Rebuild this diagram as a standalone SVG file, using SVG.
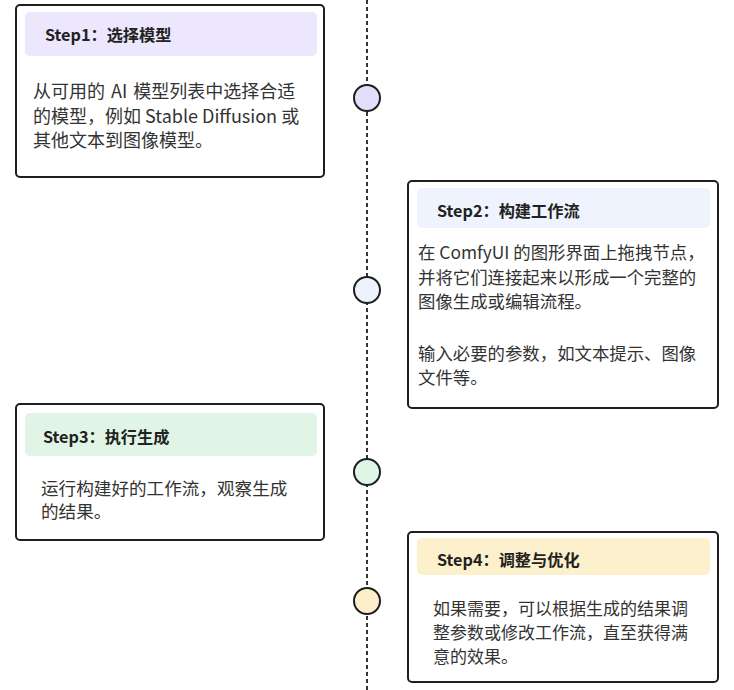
<svg xmlns="http://www.w3.org/2000/svg" width="734" height="690" viewBox="0 0 734 690">
<style>
.card{fill:#ffffff;stroke:#1e1e1e;stroke-width:2}
.hd{font-family:"Noto Sans CJK SC","Noto Sans",sans-serif;font-size:16.2px;font-weight:bold;fill:#222}
.bd{font-family:"Noto Sans CJK SC","Noto Sans",sans-serif;font-size:17px;fill:#333}
.b1{font-size:18px}
.b2{font-size:17.4px}
.b3{font-size:17.6px}
.dot{stroke:#1e1e1e;stroke-width:2}
.line{stroke:#333;stroke-width:2;stroke-dasharray:4 3;fill:none}
</style>
<rect width="734" height="690" fill="#ffffff"/>
<g id="connectors">
<line class="line" x1="367" y1="0" x2="367" y2="690"/>
</g>
<g id="dot1"><circle class="dot" cx="367" cy="98" r="13" fill="#e5defb"/></g>
<g id="dot2"><circle class="dot" cx="367" cy="290" r="13" fill="#edf2fd"/></g>
<g id="dot3"><circle class="dot" cx="367" cy="472" r="13" fill="#dff5e6"/></g>
<g id="dot4"><circle class="dot" cx="367" cy="601" r="13" fill="#fdeecb"/></g>
<g id="step1">
<rect class="card" x="16" y="5" width="308" height="172" rx="4"/>
<rect x="25" y="12" width="292" height="44" rx="5" fill="#ece7fc"/>
<text class="hd" x="45" y="41">Step1：选择模型</text>
<text class="bd b1" x="33" y="98" word-spacing="2">从可用的 AI 模型列表中选择合适</text>
<text class="bd b1" x="33" y="123">的模型，例如 Stable Diffusion 或</text>
<text class="bd b1" x="33" y="147">其他文本到图像模型。</text>
</g>
<g id="step2">
<rect class="card" x="408" y="181" width="310" height="227" rx="4"/>
<rect x="417" y="188" width="293" height="40" rx="5" fill="#eef3fd"/>
<text class="hd" x="437" y="217">Step2：构建工作流</text>
<text class="bd b2" x="418" y="259">在 ComfyUI 的图形界面上拖拽节点，</text>
<text class="bd b2" x="418" y="284">并将它们连接起来以形成一个完整的</text>
<text class="bd b2" x="418" y="308">图像生成或编辑流程。</text>
<text class="bd b2" x="418" y="360">输入必要的参数，如文本提示、图像</text>
<text class="bd b2" x="418" y="384">文件等。</text>
</g>
<g id="step3">
<rect class="card" x="16" y="404" width="308" height="136" rx="4"/>
<rect x="25" y="413" width="292" height="43" rx="5" fill="#e0f5e6"/>
<text class="hd" x="43" y="443">Step3：执行生成</text>
<text class="bd b3" x="41" y="495">运行构建好的工作流，观察生成</text>
<text class="bd b3" x="41" y="518">的结果。</text>
</g>
<g id="step4">
<rect class="card" x="408" y="532" width="310" height="150" rx="4"/>
<rect x="417" y="538" width="293" height="37" rx="5" fill="#fdf0cc"/>
<text class="hd" x="437" y="566">Step4：调整与优化</text>
<text class="bd" x="433" y="615">如果需要，可以根据生成的结果调</text>
<text class="bd" x="433" y="639">整参数或修改工作流，直至获得满</text>
<text class="bd" x="433" y="663">意的效果。</text>
</g>
</svg>
